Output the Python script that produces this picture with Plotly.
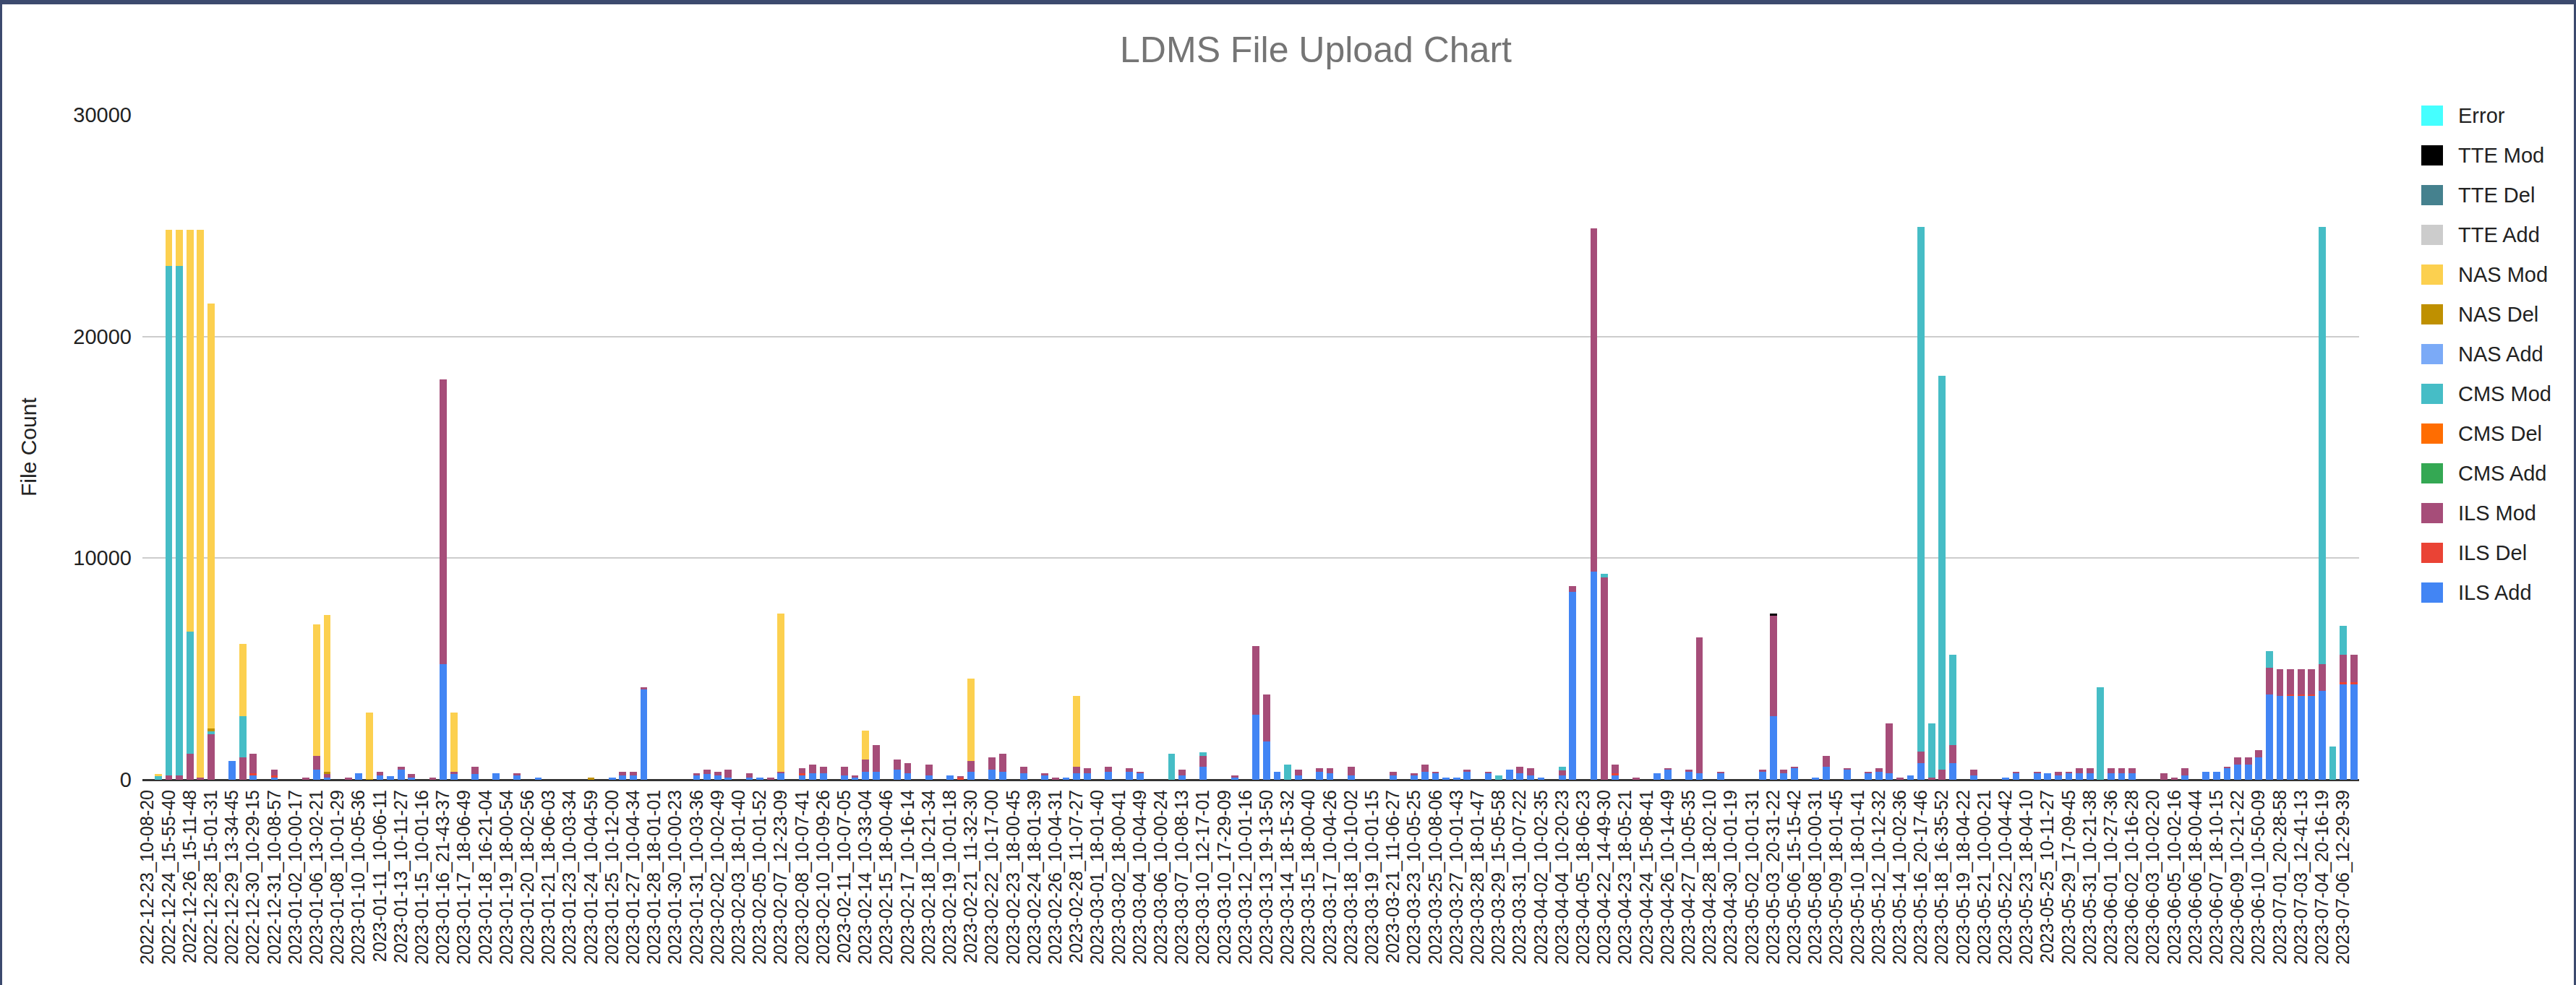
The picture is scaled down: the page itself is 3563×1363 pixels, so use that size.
import plotly.graph_objects as go

# ---------------- data ----------------
# one bar per upload run; the axis only labels every other run
n_runs = 210
run_labels = [
    "2022-12-23_10-08-20", "2022-12-24_15-55-40", "2022-12-26_15-11-48", "2022-12-28_15-01-31",
    "2022-12-29_13-34-45", "2022-12-30_10-29-15", "2022-12-31_10-08-57", "2023-01-02_10-00-17",
    "2023-01-06_13-02-21", "2023-01-08_10-01-29", "2023-01-10_10-05-36", "2023-01-11_10-06-11",
    "2023-01-13_10-11-27", "2023-01-15_10-01-16", "2023-01-16_21-43-37", "2023-01-17_18-06-49",
    "2023-01-18_16-21-04", "2023-01-19_18-00-54", "2023-01-20_18-02-56", "2023-01-21_18-06-03",
    "2023-01-23_10-03-34", "2023-01-24_10-04-59", "2023-01-25_10-12-00", "2023-01-27_10-04-34",
    "2023-01-28_18-01-01", "2023-01-30_10-00-23", "2023-01-31_10-03-36", "2023-02-02_10-02-49",
    "2023-02-03_18-01-40", "2023-02-05_10-01-52", "2023-02-07_12-23-09", "2023-02-08_10-07-41",
    "2023-02-10_10-09-26", "2023-02-11_10-07-05", "2023-02-14_10-33-04", "2023-02-15_18-00-46",
    "2023-02-17_10-16-14", "2023-02-18_10-21-34", "2023-02-19_10-01-18", "2023-02-21_11-32-30",
    "2023-02-22_10-17-00", "2023-02-23_18-00-45", "2023-02-24_18-01-39", "2023-02-26_10-04-31",
    "2023-02-28_11-07-27", "2023-03-01_18-01-40", "2023-03-02_18-00-41", "2023-03-04_10-04-49",
    "2023-03-06_10-00-24", "2023-03-07_10-08-13", "2023-03-10_12-17-01", "2023-03-10_17-29-09",
    "2023-03-12_10-01-16", "2023-03-13_19-13-50", "2023-03-14_18-15-32", "2023-03-15_18-00-40",
    "2023-03-17_10-04-26", "2023-03-18_10-10-02", "2023-03-19_10-01-15", "2023-03-21_11-06-27",
    "2023-03-23_10-05-25", "2023-03-25_10-08-06", "2023-03-27_10-01-43", "2023-03-28_18-01-47",
    "2023-03-29_15-05-58", "2023-03-31_10-07-22", "2023-04-02_10-02-35", "2023-04-04_10-20-23",
    "2023-04-05_18-06-23", "2023-04-22_14-49-30", "2023-04-23_18-05-21", "2023-04-24_15-08-41",
    "2023-04-26_10-14-49", "2023-04-27_10-05-35", "2023-04-28_18-02-10", "2023-04-30_10-01-19",
    "2023-05-02_10-01-31", "2023-05-03_20-31-22", "2023-05-06_15-15-42", "2023-05-08_10-00-31",
    "2023-05-09_18-01-45", "2023-05-10_18-01-41", "2023-05-12_10-12-32", "2023-05-14_10-02-36",
    "2023-05-16_20-17-46", "2023-05-18_16-35-52", "2023-05-19_18-04-22", "2023-05-21_10-00-21",
    "2023-05-22_10-04-42", "2023-05-23_18-04-10", "2023-05-25_10-11-27", "2023-05-29_17-09-45",
    "2023-05-31_10-21-38", "2023-06-01_10-27-36", "2023-06-02_10-16-28", "2023-06-03_10-02-20",
    "2023-06-05_10-02-16", "2023-06-06_18-00-44", "2023-06-07_18-10-15", "2023-06-09_10-21-22",
    "2023-06-10_10-50-09", "2023-07-01_20-28-58", "2023-07-03_12-41-13", "2023-07-04_20-16-19",
    "2023-07-06_12-29-39",
]

# file counts per run index (runs not listed are 0)
ils_add = {8: 845, 10: 200, 12: 110, 16: 445, 17: 110, 20: 280, 22: 195, 23: 175, 24: 445, 25: 110,
           28: 5230, 29: 270, 31: 270, 33: 280, 35: 195, 37: 110, 44: 110, 45: 195, 46: 195, 47: 4090,
           52: 195, 53: 270, 54: 195, 55: 110, 57: 110, 58: 110, 60: 280, 62: 195, 63: 280, 64: 280,
           66: 195, 67: 110, 68: 360, 69: 360, 71: 445, 72: 280, 74: 195, 76: 195, 78: 360, 80: 445,
           81: 360, 83: 280, 85: 195, 87: 110, 88: 280, 89: 280, 91: 360, 93: 360, 94: 280, 98: 195,
           100: 600, 103: 110, 105: 2950, 106: 1730, 107: 360, 109: 195, 111: 360, 112: 280, 114: 195,
           118: 195, 120: 195, 121: 360, 122: 280, 123: 110, 124: 110, 125: 360, 127: 280, 129: 445,
           130: 280, 131: 195, 132: 110, 134: 195, 135: 8480, 137: 9380, 139: 195, 143: 280, 144: 445,
           146: 360, 147: 280, 149: 280, 153: 360, 154: 2870, 155: 280, 156: 520, 158: 110, 159: 600,
           161: 445, 163: 280, 164: 360, 165: 280, 167: 195, 168: 760, 171: 760, 173: 195, 176: 110,
           177: 280, 179: 280, 180: 280, 181: 195, 182: 280, 183: 280, 184: 280, 186: 280, 187: 280,
           188: 280, 193: 195, 195: 360, 196: 360, 197: 520, 198: 680, 199: 680, 200: 1000, 201: 3840,
           202: 3770, 203: 3770, 204: 3770, 205: 3770, 206: 4010, 208: 4330, 209: 4330}
ils_del = {10: 90, 12: 90, 62: 90, 77: 110, 139: 90, 203: 80, 204: 80, 205: 80, 208: 60, 209: 60}
ils_mod = {2: 200, 3: 200, 4: 1170, 5: 110, 6: 2060, 9: 1000, 10: 880, 12: 250, 15: 110, 16: 640,
           17: 140, 19: 110, 22: 165, 24: 155, 25: 160, 27: 110, 28: 12840, 29: 90, 31: 330, 35: 85,
           45: 165, 46: 165, 47: 90, 52: 85, 53: 175, 54: 165, 55: 335, 57: 170, 59: 100, 60: 80,
           62: 235, 63: 400, 64: 320, 66: 405, 67: 85, 68: 560, 69: 1220, 71: 475, 72: 480, 74: 485,
           77: 30, 78: 480, 80: 555, 81: 810, 83: 320, 85: 85, 86: 110, 88: 320, 89: 240, 91: 240,
           93: 160, 94: 80, 98: 250, 100: 480, 103: 85, 105: 3090, 106: 2110, 109: 250, 111: 160,
           112: 240, 114: 405, 118: 165, 120: 85, 121: 320, 122: 80, 125: 85, 127: 80, 130: 320,
           131: 325, 134: 240, 135: 250, 137: 15500, 138: 9130, 139: 395, 141: 110, 144: 75, 146: 85,
           147: 6160, 149: 80, 153: 85, 154: 4530, 155: 165, 156: 80, 159: 480, 161: 75, 163: 80,
           164: 160, 165: 2265, 166: 100, 168: 500, 169: 110, 170: 445, 171: 820, 173: 250, 177: 80,
           179: 80, 181: 165, 182: 80, 183: 240, 184: 240, 186: 240, 187: 240, 188: 240, 191: 280,
           192: 110, 193: 325, 197: 80, 198: 320, 199: 320, 200: 330, 201: 1230, 202: 1210,
           203: 1130, 204: 1130, 205: 1130, 206: 1220, 208: 1240, 209: 1240}
cms_add = {}
cms_del = {}
cms_mod = {1: 170, 2: 23000, 3: 23000, 4: 5520, 6: 140, 9: 1860, 97: 1170, 100: 170, 108: 680,
           128: 195, 134: 165, 138: 160, 168: 23700, 169: 2435, 170: 17780, 171: 4050, 185: 4170,
           201: 720, 206: 19730, 207: 1495, 208: 1300}
nas_add = {}
nas_del = {6: 100, 17: 100, 21: 30, 42: 110}
nas_mod = {1: 100, 2: 1600, 3: 1600, 4: 18110, 5: 24700, 6: 19180, 9: 3270, 16: 5930, 17: 7070,
           21: 3000, 29: 2670, 60: 7145, 68: 1300, 78: 3740, 88: 3170}
tte_add = {}
tte_del = {}
tte_mod = {154: 105}
error = {}

series_names = ["ILS Add", "ILS Del", "ILS Mod", "CMS Add", "CMS Del", "CMS Mod",
                "NAS Add", "NAS Del", "NAS Mod", "TTE Add", "TTE Del", "TTE Mod", "Error"]
series_values = [ils_add, ils_del, ils_mod, cms_add, cms_del, cms_mod,
                 nas_add, nas_del, nas_mod, tte_add, tte_del, tte_mod, error]
series_colors = ["#4285f4", "#ea4335", "#a64d79", "#34a853", "#ff6d01", "#46bdc6",
                 "#7baaf7", "#bf9000", "#fcd04f", "#cccccc", "#45818e", "#000000", "#45ffff"]

# ---------------- layout geometry (pixels) ----------------
W, H = 3563, 1363
PL, PR, PT, PB = 197, 3263, 159, 1079   # plot area edges
FONT = "Arial, Liberation Sans, sans-serif"


def px_x(X):
    return (X - PL) / (PR - PL)


def px_y(Y):
    return (PB - Y) / (PB - PT)


runs = list(range(n_runs))
fig = go.Figure()
for name, vals, col in zip(series_names, series_values, series_colors):
    fig.add_trace(go.Bar(
        x=runs, y=[vals.get(i, 0) for i in runs], name=name,
        marker=dict(color=col, line=dict(width=0)), showlegend=False,
    ))

shapes = []
annotations = []
# legend drawn as swatches + labels (Error on top)
for k, (name, col) in enumerate(zip(series_names[::-1], series_colors[::-1])):
    cy = 160 + 55 * k
    shapes.append(dict(type="rect", xref="paper", yref="paper",
                       x0=px_x(3349), x1=px_x(3379), y0=px_y(cy + 14), y1=px_y(cy - 14),
                       fillcolor=col, line=dict(width=0), layer="above"))
    annotations.append(dict(xref="paper", yref="paper", x=px_x(3398), y=px_y(cy),
                            xanchor="left", yanchor="middle", showarrow=False, text=name,
                            font=dict(family=FONT, size=29, color="#222222")))

# page frame (dark band at top and thin side borders)
navy = "#3c4a6e"
shapes += [
    dict(type="rect", xref="paper", yref="paper", x0=px_x(0), x1=px_x(W), y0=px_y(6), y1=px_y(0),
         fillcolor=navy, line=dict(width=0), layer="above"),
    dict(type="rect", xref="paper", yref="paper", x0=px_x(0), x1=px_x(3), y0=px_y(H), y1=px_y(0),
         fillcolor=navy, line=dict(width=0), layer="above"),
    dict(type="rect", xref="paper", yref="paper", x0=px_x(W - 3), x1=px_x(W), y0=px_y(H), y1=px_y(0),
         fillcolor=navy, line=dict(width=0), layer="above"),
]

annotations.append(dict(xref="paper", yref="paper", x=px_x(39), y=0.5, textangle=-90,
                        xanchor="center", yanchor="middle", showarrow=False, text="File Count",
                        font=dict(family=FONT, size=30, color="#222222")))

fig.update_layout(
    width=W, height=H,
    margin=dict(l=PL, r=W - PR, t=PT, b=H - PB, pad=0),
    paper_bgcolor="white", plot_bgcolor="white",
    barmode="stack", bargap=0.32,
    font=dict(family=FONT, color="#222222"),
    title=dict(text="LDMS File Upload Chart", xref="paper", x=px_x(1820), xanchor="center",
               yref="container", y=1 - 68 / H, yanchor="middle",
               font=dict(family=FONT, size=50, color="#757575")),
    xaxis=dict(range=[-0.5, n_runs - 0.5], tickmode="array",
               tickvals=runs[::2], ticktext=run_labels, tickangle=-90,
               tickfont=dict(family=FONT, size=25, color="#222222"),
               showgrid=False, zeroline=False, ticks="", ticklabelstandoff=8,
               showline=False),
    yaxis=dict(range=[0, 30000], dtick=10000, tickformat="d", showgrid=True,
               gridcolor="#cccccc", gridwidth=2,
               zeroline=True, zerolinecolor="#333333", zerolinewidth=3,
               tickfont=dict(family=FONT, size=29, color="#222222"), ticks="",
               ticklabelstandoff=14, showline=False),
    shapes=shapes, annotations=annotations,
    showlegend=False,
)

fig.write_html("out.html", config={"displayModeBar": False},
               post_script="document.body.style.margin='0';document.body.style.overflow='hidden';")
